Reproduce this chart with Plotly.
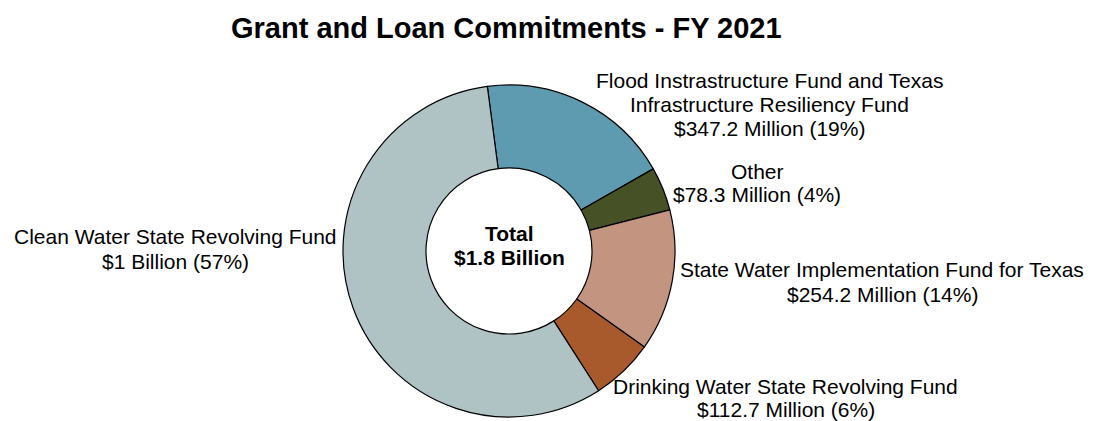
import plotly.graph_objects as go

# ---- data ----
categories = [
    "Flood Instrastructure Fund and Texas Infrastructure Resiliency Fund",
    "Other",
    "State Water Implementation Fund for Texas",
    "Drinking Water State Revolving Fund",
    "Clean Water State Revolving Fund",
]
values_millions = [347.2, 78.3, 254.2, 112.7, 1050.0]
colors = ["#5f9bb0", "#465125", "#c39581", "#a85a2d", "#afc3c5"]

label_lines = [
    ["Flood Instrastructure Fund and Texas", "Infrastructure Resiliency Fund", "$347.2 Million (19%)"],
    ["Other", "$78.3 Million (4%)"],
    ["State Water Implementation Fund for Texas", "$254.2 Million (14%)"],
    ["Drinking Water State Revolving Fund", "$112.7 Million (6%)"],
    ["Clean Water State Revolving Fund", "$1 Billion (57%)"],
]
center_lines = ["Total", "$1.8 Billion"]
title_text = "Grant and Loan Commitments - FY 2021"

# ---- layout constants (pixels) ----
W, H = 1102, 421
FONT = "Liberation Sans, Arial, sans-serif"
cx, cy, R = 509, 251, 166

# label anchor positions in px: (x center, list of line mid-y)
label_pos = [
    (769, [80.5, 104.5, 128.5]),
    (757, [171.5, 194.5]),
    (882, [269, 294]),
    (786, [386.5, 409]),
    (175, [236, 261]),
]
center_pos = (510, [234, 257.5])


def px(x):
    return x / W


def py(y):
    return 1 - y / H


fig = go.Figure(
    go.Pie(
        labels=categories,
        values=values_millions,
        sort=False,
        direction="clockwise",
        rotation=-7.5,
        hole=0.5,
        marker=dict(colors=colors, line=dict(color="#000000", width=1.2)),
        textinfo="none",
        hoverinfo="label+value+percent",
        showlegend=False,
        domain=dict(x=[px(cx - R), px(cx + R)], y=[py(cy + R), py(cy - R)]),
    )
)

annotations = []
for (x, ys), lines in zip(label_pos, label_lines):
    for y, t in zip(ys, lines):
        annotations.append(
            dict(
                x=px(x), y=py(y), xref="paper", yref="paper",
                text=t, showarrow=False, xanchor="center", yanchor="middle",
                borderpad=0,
                font=dict(family=FONT, size=21, color="#000000"),
            )
        )
for y, t in zip(center_pos[1], center_lines):
    annotations.append(
        dict(
            x=px(center_pos[0]), y=py(y), xref="paper", yref="paper",
            text=f"<b>{t}</b>", showarrow=False, xanchor="center", yanchor="middle",
            font=dict(family=FONT, size=21, color="#000000"),
        )
    )
annotations.append(
    dict(
        x=px(506), y=py(28), xref="paper", yref="paper",
        text=f"<b>{title_text}</b>", showarrow=False, xanchor="center", yanchor="middle",
        font=dict(family=FONT, size=29, color="#000000"),
    )
)

fig.update_layout(
    width=W, height=H,
    margin=dict(l=0, r=0, t=0, b=0),
    paper_bgcolor="#ffffff",
    plot_bgcolor="#ffffff",
    annotations=annotations,
)

fig.write_html(
    "out.html",
    config={"displayModeBar": False},
    post_script="document.body.style.margin='0';document.body.style.overflow='hidden';",
)
